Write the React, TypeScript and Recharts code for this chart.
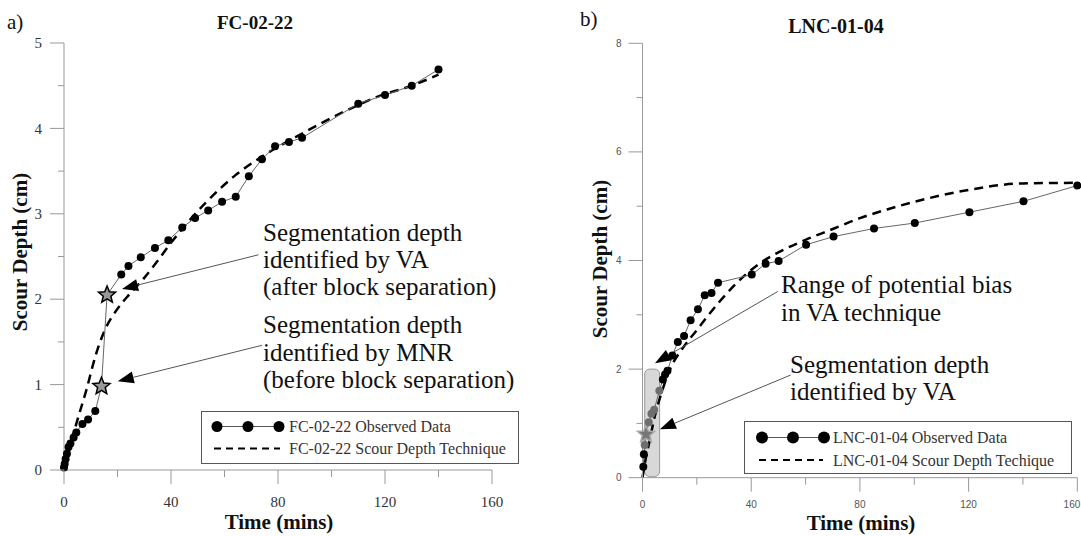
import React from "react";
import { LineChart, Line, XAxis, YAxis, ReferenceLine, ReferenceArea } from "recharts";

const SERIF = '"Liberation Serif", "Times New Roman", serif';
const SANS = '"Liberation Sans", Arial, sans-serif';

// a) FC-02-22
const fcObsTime = [0, 0.25, 0.6, 1.1, 1.7, 2.4, 3.6, 4.6, 6.9, 9.0, 11.7, 14.0, 16.1, 21.4, 24.1, 28.7, 34.0, 39.0, 44.2, 49.0, 53.9, 59.1, 64.2, 69.1, 74.0, 78.9, 84.1, 89.0, 110, 120, 130, 140];
const fcObsDepth = [0.03, 0.07, 0.13, 0.19, 0.27, 0.31, 0.38, 0.44, 0.54, 0.59, 0.69, 0.98, 2.05, 2.29, 2.39, 2.49, 2.6, 2.69, 2.84, 2.95, 3.04, 3.14, 3.2, 3.44, 3.64, 3.79, 3.84, 3.89, 4.29, 4.39, 4.5, 4.69];
const fcStarTimes = [14.0, 16.1];
const fcModelTime = [0, 1, 2.5, 4.6, 8.3, 12, 15, 19.6, 24.5, 30, 35, 40, 53, 64, 74, 89, 105, 118, 130, 140];
const fcModelDepth = [0, 0.12, 0.3, 0.54, 0.93, 1.36, 1.62, 1.87, 2.06, 2.25, 2.45, 2.66, 3.13, 3.45, 3.67, 3.94, 4.2, 4.38, 4.5, 4.63];
const fcYTicks = [0, 0.5, 1, 1.5, 2, 2.5, 3, 3.5, 4, 4.5, 5];

// b) LNC-01-04
const lncObsTime = [0.3, 0.5, 0.8, 1.3, 2.3, 3.3, 4.3, 6.2, 7.5, 8.3, 9.2, 11, 13, 15.3, 17.7, 20.4, 22.9, 25.4, 27.8, 40.2, 45.3, 50.1, 60.2, 70.3, 85.2, 100.2, 120.3, 140.2, 160];
const lncObsDepth = [0.2, 0.43, 0.6, 0.8, 1.02, 1.18, 1.25, 1.6, 1.81, 1.9, 1.97, 2.25, 2.5, 2.61, 2.9, 3.1, 3.36, 3.4, 3.59, 3.74, 3.94, 3.99, 4.29, 4.44, 4.59, 4.69, 4.89, 5.09, 5.38];
const lncStarTimes = [1.3];
const lncModelTime = [0, 1, 2.5, 4.2, 7.3, 10.5, 14.3, 20, 28.3, 38.4, 43.5, 50, 60, 70, 80, 90, 100, 120, 140, 160];
const lncModelDepth = [0, 0.3, 0.65, 1.06, 1.61, 2.04, 2.35, 2.72, 3.24, 3.76, 3.96, 4.15, 4.38, 4.58, 4.78, 4.94, 5.08, 5.3, 5.42, 5.43];
const lncYTicks = [0, 1, 2, 3, 4, 5, 6, 7, 8];
// range of potential bias (shaded box)
const biasTime = [0.8, 6.3];
const biasDepth = [0.02, 2.0];

const xTicks = [0, 20, 40, 60, 80, 100, 120, 140, 160];

const toPoints = (ts: number[], ds: number[]) => ts.map((t, i) => ({ t, d: ds[i] }));
const fcObserved = toPoints(fcObsTime, fcObsDepth);
const fcModel = toPoints(fcModelTime, fcModelDepth);
const lncObserved = toPoints(lncObsTime, lncObsDepth);
const lncModel = toPoints(lncModelTime, lncModelDepth);

const TICK_SIZE = 14;
const TICK_MARGIN = 8;
const AXIS = "#999";

function starPath(cx: number, cy: number, R: number, r: number) {
  const pts: string[] = [];
  for (let i = 0; i < 10; i++) {
    const rad = i % 2 === 0 ? R : r;
    const a = -Math.PI / 2 + (i * Math.PI) / 5;
    pts.push(`${cx + rad * Math.cos(a)},${cy + rad * Math.sin(a)}`);
  }
  return `M${pts.join("L")}Z`;
}

// dots: circles, stars at the segmentation points, grey inside the shaded box
function makeDot(starTimes: number[], r: number, starFill: string, starStroke: string, shade?: number[][]) {
  return (p: any) => {
    const { cx, cy, payload, index } = p;
    if (cx == null || cy == null) return <g key={`d${index}`} />;
    if (starTimes.includes(payload.t)) {
      return <path key={`d${index}`} d={starPath(cx, cy, 9, 4)} fill={starFill} stroke={starStroke} strokeWidth={1.5} />;
    }
    const inside =
      shade &&
      payload.t >= shade[0][0] && payload.t <= shade[0][1] &&
      payload.d >= shade[1][0] && payload.d <= shade[1][1];
    return <circle key={`d${index}`} cx={cx} cy={cy} r={r} fill={inside ? "#6e6e6e" : "#000"} />;
  };
}

function arrowShape(props: any) {
  const { x1, y1, x2, y2 } = props;
  const ang = Math.atan2(y2 - y1, x2 - x1);
  const L = 16;
  const W = 6;
  const bx = x2 - L * Math.cos(ang);
  const by = y2 - L * Math.sin(ang);
  const px = -Math.sin(ang) * W;
  const py = Math.cos(ang) * W;
  return (
    <g>
      <line x1={x1} y1={y1} x2={bx} y2={by} stroke="#555" strokeWidth={1} />
      <polygon points={`${x2},${y2} ${bx + px},${by + py} ${bx - px},${by - py}`} fill="#000" />
    </g>
  );
}

function yTick(labelStyle: any, labelGap: number) {
  return (p: any) => {
    const { x, y, payload } = p;
    const axisX = x + TICK_MARGIN + TICK_SIZE;
    const major = Number.isInteger(payload.value) && (labelStyle.every ? payload.value % labelStyle.every === 0 : true);
    return (
      <g>
        <line x1={axisX - (major ? TICK_SIZE : 6)} y1={y} x2={axisX} y2={y} stroke={AXIS} />
        {major && (
          <text x={axisX - labelGap} y={y} dy="0.35em" textAnchor="end" fontFamily={labelStyle.font} fontSize={labelStyle.size} fill={labelStyle.color}>
            {payload.value}
          </text>
        )}
      </g>
    );
  };
}

function xTick(labelStyle: any, labelGap: number) {
  return (p: any) => {
    const { x, y, payload } = p;
    const axisY = y - TICK_MARGIN - TICK_SIZE;
    const major = payload.value % 40 === 0;
    const last = labelStyle.endLast && payload.value === 160;
    return (
      <g>
        <line x1={x} y1={axisY} x2={x} y2={axisY + (major ? TICK_SIZE : 7)} stroke={AXIS} />
        {major && (
          <text x={last ? x + 3 : x} y={axisY + labelGap} textAnchor={last ? "end" : "middle"} fontFamily={labelStyle.font} fontSize={labelStyle.size} fill={labelStyle.color}>
            {payload.value}
          </text>
        )}
      </g>
    );
  };
}

const fcLabel = { font: SERIF, size: 15, color: "#333" };
const lncLabel = { font: SANS, size: 10, color: "#555", every: 2, endLast: true };

function Overlay() {
  const txt = { fontFamily: SERIF, fill: "#111" };
  return (
    <svg width={1081} height={536} style={{ position: "absolute", left: 0, top: 0, pointerEvents: "none" }}>
      <text x={7} y={29} fontSize={21} {...txt}>a)</text>
      <text x={580} y={26} fontSize={21} {...txt}>b)</text>
      <text x={255} y={29} fontSize={19} fontWeight="bold" textAnchor="middle" {...txt}>FC-02-22</text>
      <text x={836} y={33} fontSize={20} fontWeight="bold" textAnchor="middle" {...txt}>LNC-01-04</text>

      <text transform="translate(27,252) rotate(-90)" fontSize={21} fontWeight="bold" textAnchor="middle" {...txt}>Scour Depth (cm)</text>
      <text transform="translate(607,259) rotate(-90)" fontSize={21} fontWeight="bold" textAnchor="middle" {...txt}>Scour Depth (cm)</text>
      <text x={279} y={529} fontSize={21} fontWeight="bold" textAnchor="middle" {...txt}>Time (mins)</text>
      <text x={861} y={530} fontSize={21} fontWeight="bold" textAnchor="middle" {...txt}>Time (mins)</text>

      <g fontSize={25} {...txt}>
        <text x={263} y={241}>Segmentation depth</text>
        <text x={263} y={268}>identified by VA</text>
        <text x={263} y={295}>(after block separation)</text>
        <text x={263} y={333}>Segmentation depth</text>
        <text x={263} y={360.5}>identified by MNR</text>
        <text x={263} y={388}>(before block separation)</text>
        <text x={781} y={293}>Range of potential bias</text>
        <text x={781} y={321}>in VA technique</text>
        <text x={790} y={373}>Segmentation depth</text>
        <text x={790} y={400}>identified by VA</text>
      </g>

      <g>
        <rect x={201.5} y={411.5} width={317} height={52} fill="#fff" stroke="#555" />
        <line x1={217} y1={426.5} x2={279} y2={426.5} stroke="#555" />
        {[217, 248, 279].map((cx) => <circle key={cx} cx={cx} cy={426.5} r={5.5} fill="#000" />)}
        <text x={289} y={432} fontSize={16} fontFamily={SERIF} fill="#333">FC-02-22 Observed Data</text>
        <line x1={214} y1={448.5} x2={280} y2={448.5} stroke="#000" strokeWidth={2} strokeDasharray="7 5" />
        <text x={289} y={454} fontSize={16} fontFamily={SERIF} fill="#333">FC-02-22 Scour Depth Technique</text>
      </g>
      <g>
        <rect x={744.5} y={421.5} width={327} height={52} fill="#fff" stroke="#555" />
        <line x1={762} y1={437.5} x2={824} y2={437.5} stroke="#555" />
        {[762, 793, 824].map((cx) => <circle key={cx} cx={cx} cy={437.5} r={6} fill="#000" />)}
        <text x={833} y={443} fontSize={16} fontFamily={SERIF} fill="#333">LNC-01-04 Observed Data</text>
        <line x1={759} y1={460} x2={823} y2={460} stroke="#000" strokeWidth={2} strokeDasharray="7 5" />
        <text x={833} y={466} fontSize={16} fontFamily={SERIF} fill="#333">LNC-01-04 Scour Depth Techique</text>
      </g>
    </svg>
  );
}

export default function App() {
  return (
    <div style={{ position: "absolute", left: 0, top: 0, width: 1081, height: 536, background: "#fff" }}>
      <div style={{ position: "absolute", left: 0, top: 0 }}>
        <LineChart width={540} height={536} margin={{ top: 43, right: 48, bottom: 0, left: 0 }}>
          <XAxis type="number" dataKey="t" domain={[0, 160]} ticks={xTicks} interval={0} height={66}
            tickSize={TICK_SIZE} tickMargin={TICK_MARGIN} tickLine={false} axisLine={{ stroke: AXIS }}
            tick={xTick(fcLabel, 37)} />
          <YAxis type="number" domain={[0, 5]} ticks={fcYTicks} interval={0} width={64}
            tickSize={TICK_SIZE} tickMargin={TICK_MARGIN} tickLine={false} axisLine={{ stroke: AXIS }}
            tick={yTick(fcLabel, 22)} />
          <Line data={fcModel} dataKey="d" type="monotone" stroke="#000" strokeWidth={2.5} strokeDasharray="9 6"
            dot={false} activeDot={false} isAnimationActive={false} />
          <Line data={fcObserved} dataKey="d" type="linear" stroke="#666" strokeWidth={1}
            dot={makeDot(fcStarTimes, 4, "#999", "#000")} activeDot={false} isAnimationActive={false} />
          <ReferenceLine segment={[{ x: 72.7, y: 2.52 }, { x: 21.7, y: 2.12 }]} shape={arrowShape} ifOverflow="visible" />
          <ReferenceLine segment={[{ x: 74, y: 1.46 }, { x: 20.1, y: 1.04 }]} shape={arrowShape} ifOverflow="visible" />
        </LineChart>
      </div>
      <div style={{ position: "absolute", left: 540, top: 0 }}>
        <LineChart width={541} height={536} margin={{ top: 43.3, right: 3.7, bottom: 0, left: 0 }}>
          <XAxis type="number" dataKey="t" domain={[0, 160]} ticks={xTicks} interval={0} height={58.3}
            tickSize={TICK_SIZE} tickMargin={TICK_MARGIN} tickLine={false} axisLine={{ stroke: AXIS }}
            tick={xTick(lncLabel, 30)} />
          <YAxis type="number" domain={[0, 8]} ticks={lncYTicks} interval={0} width={102.5}
            tickSize={TICK_SIZE} tickMargin={TICK_MARGIN} tickLine={false} axisLine={{ stroke: AXIS }}
            tick={yTick(lncLabel, 21)} />
          <ReferenceArea x1={biasTime[0]} x2={biasTime[1]} y1={biasDepth[0]} y2={biasDepth[1]} fill="#d4d4d4"
            fillOpacity={0.9} stroke="#999" radius={5} ifOverflow="visible" />
          <Line data={lncModel} dataKey="d" type="monotone" stroke="#000" strokeWidth={2.5} strokeDasharray="9 6"
            dot={false} activeDot={false} isAnimationActive={false} />
          <Line data={lncObserved} dataKey="d" type="linear" stroke="#666" strokeWidth={1}
            dot={makeDot(lncStarTimes, 4, "#777", "#aaa", [biasTime, biasDepth])} activeDot={false} isAnimationActive={false} />
          <ReferenceLine segment={[{ x: 49.8, y: 3.43 }, { x: 4.6, y: 2.11 }]} shape={arrowShape} ifOverflow="visible" />
          <ReferenceLine segment={[{ x: 54.5, y: 1.89 }, { x: 6.4, y: 0.89 }]} shape={arrowShape} ifOverflow="visible" />
        </LineChart>
      </div>
      <Overlay />
    </div>
  );
}
